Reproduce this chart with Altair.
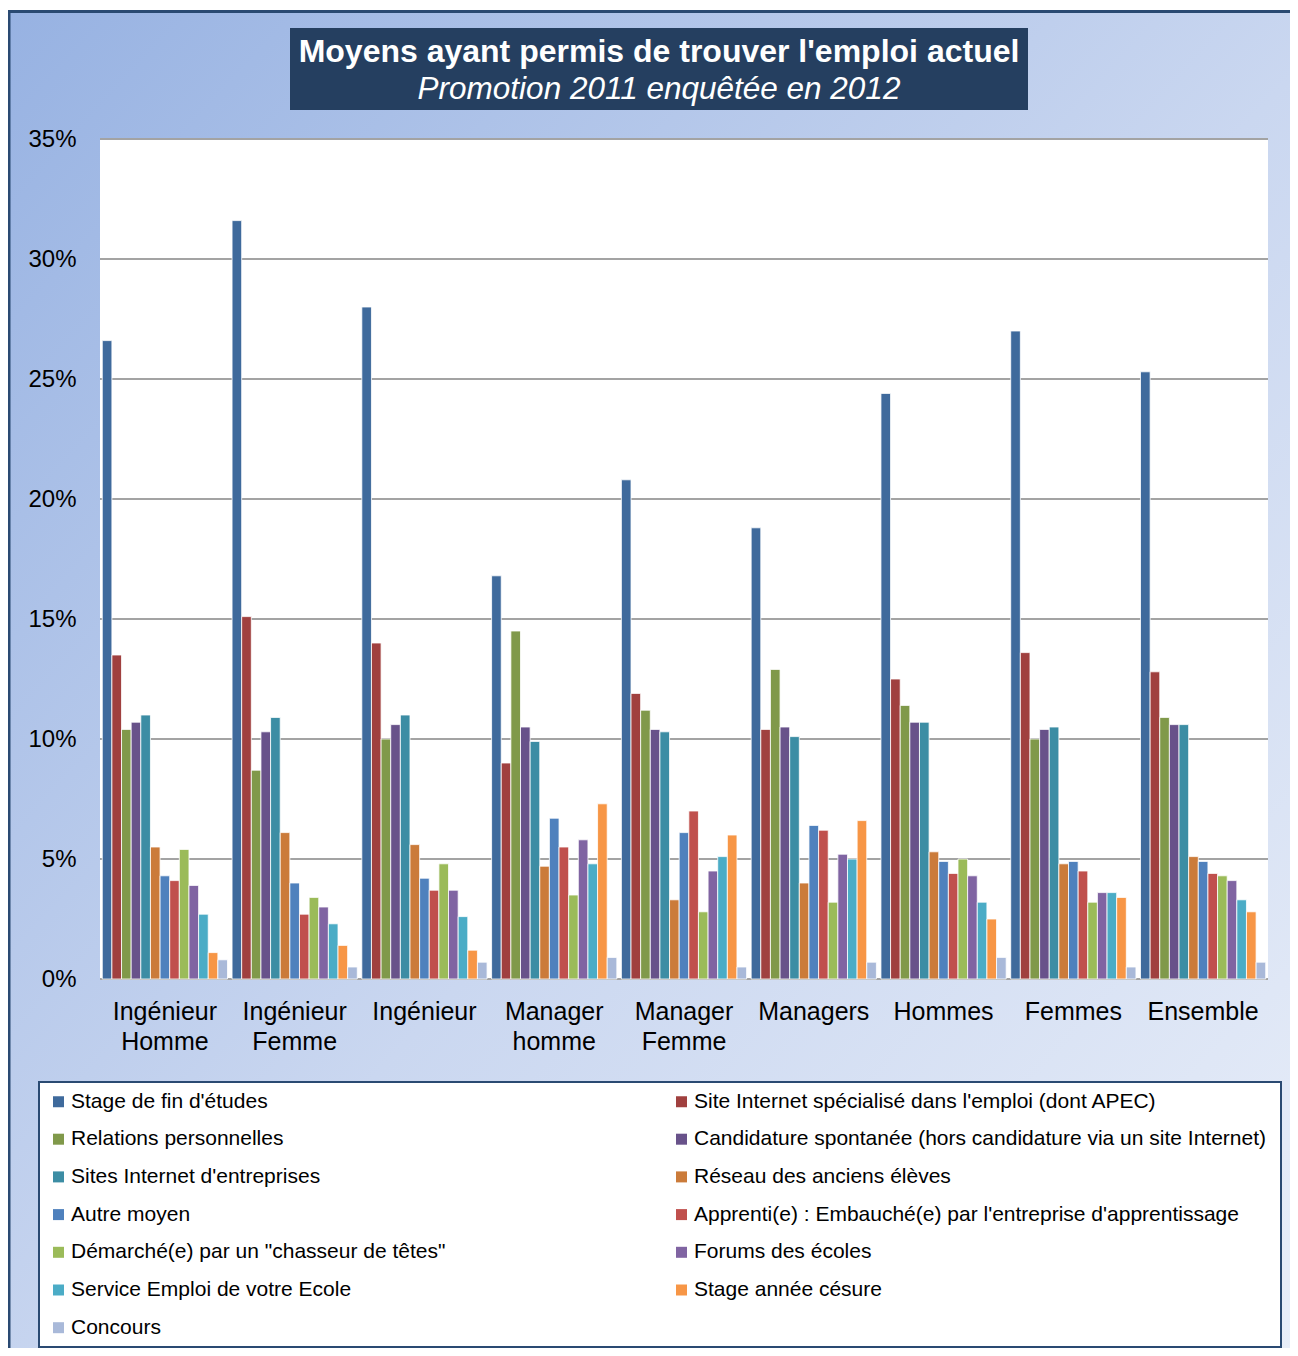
import altair as alt
import pandas as pd

categories = ["Ingénieur Homme", "Ingénieur Femme", "Ingénieur", "Manager homme",
              "Manager Femme", "Managers", "Hommes", "Femmes", "Ensemble"]

series = [
    "Stage de fin d'études",
    "Site Internet spécialisé dans l'emploi (dont APEC)",
    "Relations personnelles",
    "Candidature spontanée (hors candidature via un site Internet)",
    "Sites Internet d'entreprises",
    "Réseau des anciens élèves",
    "Autre moyen",
    "Apprenti(e) : Embauché(e) par l'entreprise d'apprentissage",
    "Démarché(e) par un \"chasseur de têtes\"",
    "Forums des écoles",
    "Service Emploi de votre Ecole",
    "Stage année césure",
    "Concours",
]

colors = ["#3F6A9C", "#A0403F", "#80994A", "#68528A", "#3C8DA4", "#CB7B3A",
          "#4F81BD", "#C0504D", "#9BBB59", "#8064A2", "#4BACC6", "#F79646", "#A9B9D9"]

v_stage       = [26.6, 31.6, 28.0, 16.8, 20.8, 18.8, 24.4, 27.0, 25.3]
v_site        = [13.5, 15.1, 14.0, 9.0, 11.9, 10.4, 12.5, 13.6, 12.8]
v_relations   = [10.4, 8.7, 10.0, 14.5, 11.2, 12.9, 11.4, 10.0, 10.9]
v_candidature = [10.7, 10.3, 10.6, 10.5, 10.4, 10.5, 10.7, 10.4, 10.6]
v_sites_ent   = [11.0, 10.9, 11.0, 9.9, 10.3, 10.1, 10.7, 10.5, 10.6]
v_reseau      = [5.5, 6.1, 5.6, 4.7, 3.3, 4.0, 5.3, 4.8, 5.1]
v_autre       = [4.3, 4.0, 4.2, 6.7, 6.1, 6.4, 4.9, 4.9, 4.9]
v_apprenti    = [4.1, 2.7, 3.7, 5.5, 7.0, 6.2, 4.4, 4.5, 4.4]
v_demarche    = [5.4, 3.4, 4.8, 3.5, 2.8, 3.2, 5.0, 3.2, 4.3]
v_forums      = [3.9, 3.0, 3.7, 5.8, 4.5, 5.2, 4.3, 3.6, 4.1]
v_service     = [2.7, 2.3, 2.6, 4.8, 5.1, 5.0, 3.2, 3.6, 3.3]
v_cesure      = [1.1, 1.4, 1.2, 7.3, 6.0, 6.6, 2.5, 3.4, 2.8]
v_concours    = [0.8, 0.5, 0.7, 0.9, 0.5, 0.7, 0.9, 0.5, 0.7]

all_values = [v_stage, v_site, v_relations, v_candidature, v_sites_ent, v_reseau,
              v_autre, v_apprenti, v_demarche, v_forums, v_service, v_cesure, v_concours]

y_ticks = [0, 5, 10, 15, 20, 25, 30, 35]

title_main = "Moyens ayant permis de trouver l'emploi actuel"
title_sub = "Promotion 2011 enquêtée en 2012"

rows = []
for s, vals in zip(series, all_values):
    for c, v in zip(categories, vals):
        rows.append({"cat": c, "serie": s, "val": v})
df = pd.DataFrame(rows)

W, H = 1168, 840
FONT = "Liberation Sans"
NAVY = "#2A4A72"

one = pd.DataFrame({"a": [0]})

bg = alt.Chart(one).mark_rect(
    color=alt.Gradient(
        gradient="linear",
        stops=[alt.GradientStop(color="#97B2E2", offset=0),
               alt.GradientStop(color="#CAD7F0", offset=0.45),
               alt.GradientStop(color="#F4F7FC", offset=1)],
        x1=0, y1=0, x2=1, y2=1),
    stroke=NAVY, strokeWidth=3,
).encode(x=alt.value(-91), x2=alt.value(1400), y=alt.value(-127.5), y2=alt.value(1500))

plot_bg = alt.Chart(one).mark_rect(color="white").encode(
    x=alt.value(0), x2=alt.value(W), y=alt.value(0), y2=alt.value(H))

grid = alt.Chart(pd.DataFrame({"t": y_ticks})).mark_rule(
    color="#A3A3A3", strokeWidth=2
).encode(
    y=alt.Y("t:Q"),
    x=alt.value(0), x2=alt.value(W),
)

bars = alt.Chart(df).mark_bar(stroke="white", strokeWidth=1, strokeOpacity=0.8).encode(
    x=alt.X("cat:N", sort=categories, title=None,
            scale=alt.Scale(paddingInner=0.035, paddingOuter=0.0175),
            axis=alt.Axis(labelExpr="split(datum.label, ' ')", labelAngle=0,
                          labelFontSize=25, labelFont=FONT, labelColor="black",
                          labelLineHeight=30, labelPadding=20, ticks=False, tickSize=0,
                          domain=False, zindex=1)),
    xOffset=alt.XOffset("serie:N", sort=series,
                        scale=alt.Scale(paddingInner=0, paddingOuter=0)),
    y=alt.Y("val:Q", title=None,
            scale=alt.Scale(domain=[0, 35], nice=False),
            axis=alt.Axis(values=y_ticks, labelExpr="datum.value + '%'",
                          labelFontSize=24, labelFont=FONT, labelColor="black",
                          labelPadding=24, ticks=False, tickSize=0, domain=False,
                          grid=False, zindex=1)),
    color=alt.Color("serie:N", sort=series,
                    scale=alt.Scale(domain=series, range=colors),
                    legend=alt.Legend(title=None, orient="none", legendX=-52, legendY=952,
                                      direction="horizontal",
                                      columns=2, columnPadding=225, rowPadding=15.7,
                                      symbolType="square", symbolSize=121,
                                      symbolStrokeWidth=0, labelFontSize=21,
                                      labelFont=FONT, labelColor="black", labelOffset=2,
                                      labelLimit=800, padding=0)),
)

title_box = alt.Chart(one).mark_rect(color="#253F60").encode(
    x=alt.value(190), x2=alt.value(928), y=alt.value(-111), y2=alt.value(-29))

t1 = alt.Chart(pd.DataFrame({"t": [title_main]})).mark_text(
    font=FONT, fontSize=32, fontWeight="bold", color="white", align="center", baseline="alphabetic"
).encode(text="t:N", x=alt.value(559), y=alt.value(-77))

t2 = alt.Chart(pd.DataFrame({"t": [title_sub]})).mark_text(
    font=FONT, fontSize=31.5, fontStyle="italic", color="white", align="center", baseline="alphabetic"
).encode(text="t:N", x=alt.value(559), y=alt.value(-40))

legend_box = alt.Chart(one).mark_rect(color="white", stroke=NAVY, strokeWidth=2).encode(
    x=alt.value(-61), x2=alt.value(1181), y=alt.value(943), y2=alt.value(1208))

chart = alt.layer(bg, plot_bg, grid, bars, title_box, t1, t2, legend_box).properties(
    width=W, height=H,
    padding={"left": 92, "top": 131, "right": 22, "bottom": 369},
    autosize=alt.AutoSizeParams(type="none"),
).configure_view(stroke="transparent").configure(background="white")

chart.save("out.html", embed_options={"renderer": "svg", "actions": False})
